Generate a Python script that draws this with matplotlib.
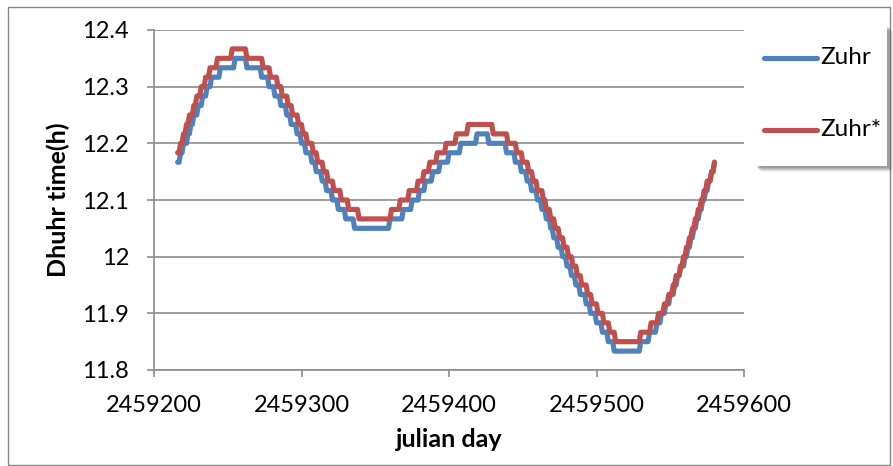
import numpy as np
import matplotlib
matplotlib.use("Agg")
import matplotlib.pyplot as plt
from matplotlib.patches import Rectangle
from matplotlib.lines import Line2D

# ---------------- data ----------------
JD0 = 2459215          # julian day offset; day 1 -> 2459216
LAST_DAY = 365

# Zuhr: day (offset from JD0) where a new minute value starts, and minutes past 12:00
zuhr_days = [1, 3, 5, 8, 10, 12, 15, 18, 21, 24, 30, 40,
             48, 58, 63, 67, 71, 75, 78, 82, 85, 88, 92, 95, 99, 102, 106, 110, 115, 121,
             145, 154, 160, 165, 169, 174, 179, 185, 193, 204,
             212, 224, 230, 234, 238, 241, 245, 248, 251, 254, 256, 259, 262, 265, 268,
             271, 274, 278, 281, 285, 289, 293, 297,
             315, 321, 326, 329, 332, 335, 338, 340, 342, 345, 347, 349, 351, 353, 355,
             357, 359, 361, 363, 365]
zuhr_min = [10, 11, 12, 13, 14, 15, 16, 17, 18, 19, 20, 21,
            20, 19, 18, 17, 16, 15, 14, 13, 12, 11, 10, 9, 8, 7, 6, 5, 4, 3,
            4, 5, 6, 7, 8, 9, 10, 11, 12, 13,
            12, 11, 10, 9, 8, 7, 6, 5, 4, 3, 2, 1, 0, -1, -2,
            -3, -4, -5, -6, -7, -8, -9, -10,
            -9, -8, -7, -6, -5, -4, -3, -2, -1, 0, 1, 2, 3, 4, 5,
            6, 7, 8, 9, 10]

# Zuhr*: same layout
zuhr2_days = [1, 3, 5, 7, 9, 12, 14, 17, 20, 23, 28, 38,
              48, 59, 64, 69, 72, 76, 79, 83, 86, 89, 93, 96, 100, 103, 107, 112, 117, 124,
              146, 152, 158, 164, 168, 172, 177, 183, 190, 198,
              215, 225, 231, 235, 239, 242, 245, 249, 251, 254, 257, 260, 263, 266, 269,
              272, 275, 279, 282, 286, 290, 294, 298,
              315, 322, 327, 331, 334, 337, 339, 342, 344, 346, 348, 350, 352, 354, 356,
              358, 360, 363, 365]
zuhr2_min = [11, 12, 13, 14, 15, 16, 17, 18, 19, 20, 21, 22,
             21, 20, 19, 18, 17, 16, 15, 14, 13, 12, 11, 10, 9, 8, 7, 6, 5, 4,
             5, 6, 7, 8, 9, 10, 11, 12, 13, 14,
             13, 12, 11, 10, 9, 8, 7, 6, 5, 4, 3, 2, 1, 0, -1,
             -2, -3, -4, -5, -6, -7, -8, -9,
             -8, -7, -6, -5, -4, -3, -2, -1, 0, 1, 2, 3, 4, 5, 6,
             7, 8, 9, 10]

series_names = ["Zuhr", "Zuhr*"]
series_colors = ["#4F81BD", "#C0504D"]
x_ticks = [2459200, 2459300, 2459400, 2459500, 2459600]
y_ticks = [11.8, 11.9, 12.0, 12.1, 12.2, 12.3, 12.4]
y_tick_labels = ["11.8", "11.9", "12", "12.1", "12.2", "12.3", "12.4"]


def daily(change_days, minutes):
    cd = np.asarray(change_days)
    mv = np.asarray(minutes, dtype=float)
    days = np.arange(cd[0], LAST_DAY + 1)
    idx = np.searchsorted(cd, days, side="right") - 1
    return JD0 + days, 12.0 + mv[idx] / 60.0


FONT = ["Lato", "DejaVu Sans"]
plt.rcParams["font.family"] = FONT
TICK_FS = 17
LABEL_FS = 18
LEG_FS = 17.5

W, H = 893, 466
fig = plt.figure(figsize=(W / 100, H / 100), dpi=100)
fig.patch.set_facecolor("white")

# outer chart border
fig.patches.append(Rectangle((8 / W, 1 / H), (W - 11) / W, (H - 8) / H,
                             transform=fig.transFigure, fill=False,
                             edgecolor="#868686", linewidth=1.0))

L, R, T, B = 154, 744, 30, 370
ax = fig.add_axes([L / W, 1 - B / H, (R - L) / W, (B - T) / H])

grid_c = "#8C8C8C"
ax.set_xlim(2459200, 2459600)
ax.set_ylim(11.8, 12.4)
ax.set_yticks(y_ticks)
ax.set_yticklabels(y_tick_labels)
ax.set_xticks(x_ticks)
ax.set_xticklabels([str(v) for v in x_ticks])
ax.yaxis.grid(True, color=grid_c, linewidth=1.2)
ax.set_axisbelow(True)
for s in ["top", "right"]:
    ax.spines[s].set_visible(False)
for s in ["left", "bottom"]:
    ax.spines[s].set_color(grid_c)
    ax.spines[s].set_linewidth(1.2)
ax.tick_params(axis="both", direction="out", length=5, width=1.2, color=grid_c,
               labelsize=TICK_FS, labelcolor="black")
ax.tick_params(axis="y", pad=13)
ax.tick_params(axis="x", pad=13)

for (days, mins), color, name in zip([(zuhr_days, zuhr_min), (zuhr2_days, zuhr2_min)],
                                     series_colors, series_names):
    x, y = daily(days, mins)
    ax.plot(x, y, color=color, linewidth=3.7, solid_capstyle="round",
            solid_joinstyle="round", label=name, zorder=3)

ax.set_xlabel("julian day", fontsize=LABEL_FS, fontweight="bold")
ax.set_ylabel("Dhuhr time(h)", fontsize=LABEL_FS, fontweight="bold")
ax.xaxis.set_label_coords(0.5, (370 - 428) / 340)
ax.yaxis.set_label_coords((70 - L) / (R - L), 0.5)

# ---------------- legend (manual, Excel-like) ----------------
lx0, ly0, lx1, ly1 = 755, 25, 887, 166
for off, a in [(6, 0.05), (5, 0.07), (4, 0.09), (3, 0.11), (2, 0.12)]:
    fig.patches.append(Rectangle(((lx0 + off) / W, 1 - (ly1 + off) / H),
                                 (lx1 - lx0) / W, (ly1 - ly0) / H,
                                 transform=fig.transFigure, facecolor="#000000",
                                 edgecolor="none", alpha=a))
fig.patches.append(Rectangle((lx0 / W, 1 - ly1 / H), (lx1 - lx0) / W, (ly1 - ly0) / H,
                             transform=fig.transFigure, facecolor="white",
                             edgecolor="none"))
for yy, color, name in zip([58, 130], series_colors, series_names):
    fig.lines.append(Line2D([764 / W, 817 / W], [1 - yy / H, 1 - yy / H],
                            transform=fig.transFigure, color=color, linewidth=3.7,
                            solid_capstyle="round"))
    fig.text(820 / W, 1 - yy / H, name, fontsize=LEG_FS, va="center", ha="left")

fig.savefig("out.png", dpi=100, facecolor="white")
